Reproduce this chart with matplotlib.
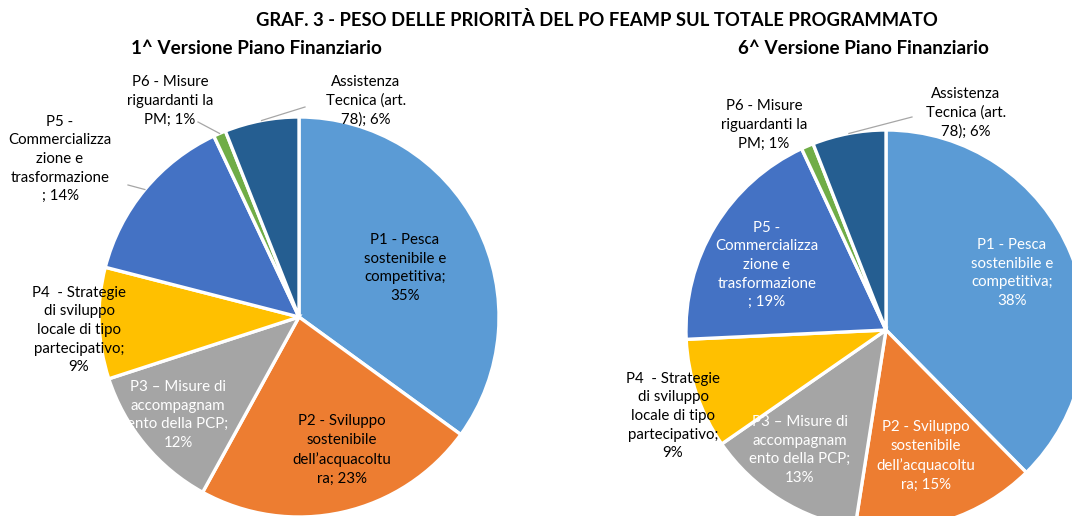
import numpy as np
import matplotlib
matplotlib.use("Agg")
import matplotlib.pyplot as plt

plt.rcParams['font.family'] = ['Lato', 'DejaVu Sans']

# data
labels = ["P1 - Pesca\nsostenibile e\ncompetitiva;",
          "P2 - Sviluppo\nsostenibile\ndell\u2019acquacoltu\nra;",
          "P3 \u2013 Misure di\naccompagnam\nento della PCP;",
          "P4  - Strategie\ndi sviluppo\nlocale di tipo\npartecipativo;",
          "P5 -\nCommercializza\nzione e\ntrasformazione\n;",
          "P6 - Misure\nriguardanti la\nPM;",
          "Assistenza\nTecnica (art.\n78);"]
# what goes between the label and the percentage
seps = ["\n", " ", "\n", "\n", " ", " ", " "]
v1_values = [35, 23, 12, 9, 14, 1, 6]
v6_values = [38, 15, 13, 9, 19, 1, 6]
colors = ["#5B9BD5", "#ED7D31", "#A5A5A5", "#FFC000", "#4472C4", "#70AD47", "#255E91"]

title = "GRAF. 3 - PESO DELLE PRIORITÀ DEL PO FEAMP SUL TOTALE PROGRAMMATO"
sub1 = "1^ Versione Piano Finanziario"
sub6 = "6^ Versione Piano Finanziario"

W, H = 1072, 516
fig = plt.figure(figsize=(W / 100, H / 100), dpi=100)
ax = fig.add_axes([0, 0, 1, 1])

def py(y):
    # image pixel row -> data y
    return H - y

# layout: pie centre (px), radius, label centres (px), text colour, leader anchor
pies = [
    dict(values=v1_values, cx=299, cy=317, r=200,
         pos=[(405, 268), (342, 450), (178, 415), (79, 330), (60, 159), (170, 101), (366, 101)],
         tc=["black", "black", "white", "black", "black", "black", "black"],
         leader={4: (128, 185), 5: (198, 122), 6: (305, 107)}),
    dict(values=v6_values, cx=886, cy=330, r=200,
         pos=[(1012, 273), (926, 456), (800, 450), (673, 416), (767, 265), (764, 125), (966, 113)],
         tc=["white", "white", "white", "black", "white", "black", "black"],
         leader={6: (912, 117)}),
]

for p in pies:
    vals = p["values"]
    ax.pie(vals, colors=colors, startangle=90, counterclock=False,
           center=(p["cx"], py(p["cy"])), radius=p["r"],
           wedgeprops=dict(edgecolor="white", linewidth=2.4), frame=True)
    tot = float(sum(vals))
    cum = np.cumsum([0] + list(vals))
    for i, lab in enumerate(labels):
        txt = lab + seps[i] + "%d%%" % vals[i]
        x, y = p["pos"][i]
        ax.text(x, py(y), txt, ha="center", va="center", fontsize=10.8,
                color=p["tc"][i], linespacing=1.42)
        if i in p["leader"]:
            mid = (cum[i] + cum[i + 1]) / 2 / tot
            ang = np.deg2rad(90 - mid * 360)
            ex = p["cx"] + p["r"] * np.cos(ang)
            ey = py(p["cy"]) + p["r"] * np.sin(ang)
            lx, ly = p["leader"][i]
            ax.plot([lx, ex], [py(ly), ey], color="#A6A6A6", lw=0.9)

fig.text(597 / W, 1 - 20 / H, title, ha="center", va="center",
         fontsize=13.2, fontweight="bold")
fig.text(256 / W, 1 - 49 / H, sub1, ha="center", va="center",
         fontsize=13.6, fontweight="bold")
fig.text(863 / W, 1 - 49 / H, sub6, ha="center", va="center",
         fontsize=13.6, fontweight="bold")

ax.set_xlim(0, W)
ax.set_ylim(0, H)
ax.set_aspect("equal")
ax.axis("off")

fig.savefig("out.png", dpi=100)
